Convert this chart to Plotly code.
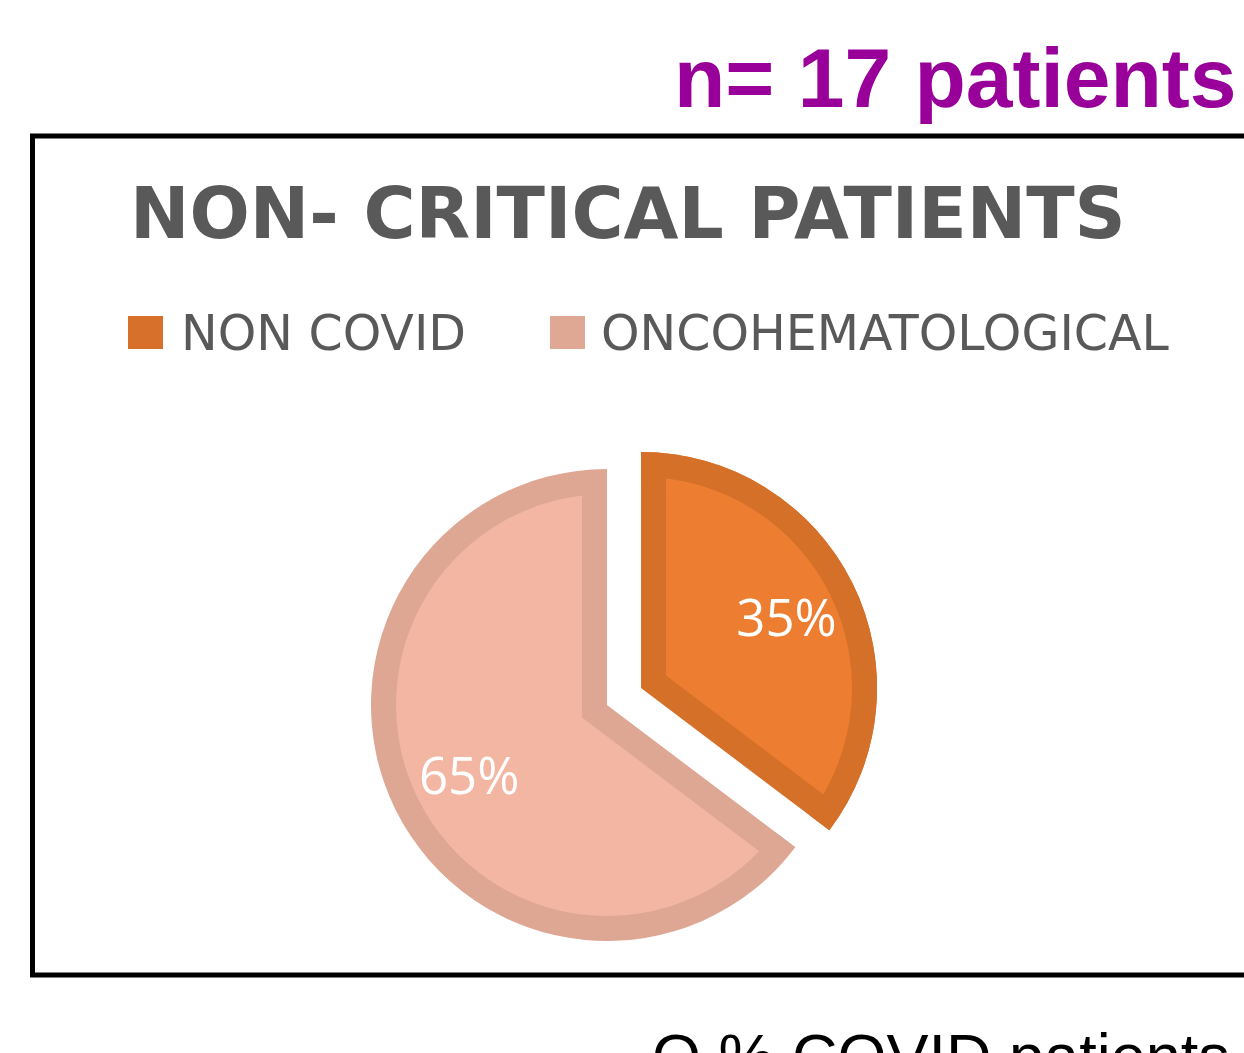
import math
import plotly.graph_objects as go

# ---------------- data ----------------
labels = ["NON COVID", "ONCOHEMATOLOGICAL"]
patients = [6, 11]                      # 6/17 = 35 %, 11/17 = 65 %
heading = "n= 17 patients"
chart_title = "NON- CRITICAL PATIENTS"
footer = "O % COVID patients"

# ---------------- style ----------------
W, H = 1244, 1053
border_colors = ["#D57029", "#DDA794"]
fill_colors = ["#EC7D31", "#F2B6A3"]
key_colors = ["#D6702B", "#DFA895"]
CLEAR = "rgba(0,0,0,0)"
GREY = "#595959"

CX, CY = 607, 705      # pie centre in px
R = 236                # pie radius in px
RIM = 25               # width of the darker inner rim in px
GAP = 38               # explode distance of the first slice in px
R_TEXT = 308           # radius used to place the percentage labels


def dom(x, y, half):
    return dict(x=[(x - half) / W, (x + half) / W],
                y=[1 - (y + half) / H, 1 - (y - half) / H])


frac0 = patients[0] / sum(patients)
mid = math.pi * frac0                     # half-angle of slice 0
ux, uy = math.sin(mid), -math.cos(mid)    # explode direction (screen coords)
shift = RIM / math.sin(mid)               # apex inset for the rim

common = dict(values=patients, labels=labels, sort=False, direction="clockwise",
              rotation=0, textinfo="none", hoverinfo="skip", showlegend=False)

traces = []
# 1) full slices in rim colour
traces.append(go.Pie(**common, pull=[GAP / R, 0], domain=dom(CX, CY, R + GAP),
                     marker=dict(colors=border_colors, line=dict(width=0))))
# 2) light slice inner fill
T = R - RIM + 2
c = math.cos(mid)
Rl = shift * c + math.sqrt(shift ** 2 * c ** 2 - shift ** 2 + T ** 2)
traces.append(go.Pie(**common, domain=dom(CX - shift * ux, CY - shift * uy, Rl),
                     marker=dict(colors=[CLEAR, fill_colors[1]], line=dict(width=0))))
# 3) white ring trimming the light fill
traces.append(go.Pie(**common, hole=(R - 3) / (R + 22), domain=dom(CX, CY, R + 22),
                     marker=dict(colors=[CLEAR, "white"], line=dict(width=0))))
# 4) light rim ring
traces.append(go.Pie(**common, hole=(R - RIM) / R, domain=dom(CX, CY, R),
                     marker=dict(colors=[CLEAR, border_colors[1]], line=dict(width=0))))
# 5) orange slice inner fill
Ro = R - shift - 1
traces.append(go.Pie(**common,
                     domain=dom(CX + (GAP + shift) * ux, CY + (GAP + shift) * uy, Ro),
                     marker=dict(colors=[fill_colors[0], CLEAR], line=dict(width=0))))
# 6) orange rim ring
traces.append(go.Pie(**common, hole=(R - RIM) / R,
                     domain=dom(CX + GAP * ux, CY + GAP * uy, R),
                     marker=dict(colors=[border_colors[0], CLEAR], line=dict(width=0))))
# 7) percentage labels
lab = dict(common)
lab.pop("textinfo")
traces.append(go.Pie(**lab, pull=[GAP / R_TEXT, 0], domain=dom(CX, CY, R_TEXT + GAP),
                     marker=dict(colors=[CLEAR, CLEAR], line=dict(width=0)),
                     texttemplate="%{percent:.0%}", textposition="inside",
                     insidetextorientation="horizontal",
                     textfont=dict(family="Open Sans", size=51, color="white")))

fig = go.Figure(traces)

shapes = [dict(type="rect", xref="paper", yref="paper",
               x0=32.5 / W, x1=1270 / W, y0=1 - 975 / H, y1=1 - 136 / H,
               line=dict(color="black", width=5), fillcolor=CLEAR)]
annotations = []
key_x = [128, 550]
text_x = [179, 599]
for i, name in enumerate(labels):
    shapes.append(dict(type="rect", xref="paper", yref="paper",
                       x0=key_x[i] / W, x1=(key_x[i] + 35) / W,
                       y0=1 - 349 / H, y1=1 - 316 / H,
                       line=dict(width=0), fillcolor=key_colors[i]))
    annotations.append(dict(text=name, xref="paper", yref="paper",
                            x=text_x[i] / W, y=1 - 333 / H, xanchor="left", yanchor="middle",
                            showarrow=False,
                            font=dict(family="DejaVu Sans", size=49, color=GREY)))

annotations.append(dict(text="<b>" + heading + "</b>", xref="paper", yref="paper",
                        x=1239 / W, y=1 - 127 / H, xanchor="right", yanchor="bottom",
                        showarrow=False,
                        font=dict(family="Liberation Sans, Arial", size=84, color="#990099")))
annotations.append(dict(text=footer, xref="paper", yref="paper",
                        x=650 / W, y=1 - 1019 / H, xanchor="left", yanchor="top",
                        showarrow=False,
                        font=dict(family="Liberation Sans, Arial", size=63, color="black")))

fig.update_layout(
    width=W, height=H,
    margin=dict(l=0, r=0, t=0, b=0),
    paper_bgcolor="white", plot_bgcolor="white",
    title=dict(text=chart_title, x=130 / W, xanchor="left", xref="paper",
               y=1 - 213 / H, yanchor="middle", yref="container",
               font=dict(family="DejaVu Sans", size=71, color=GREY, weight="bold")),
    shapes=shapes, annotations=annotations,
)

fig.write_html("out.html", config={"displayModeBar": False},
               post_script="document.body.style.margin='0';document.body.style.overflow='hidden';")
